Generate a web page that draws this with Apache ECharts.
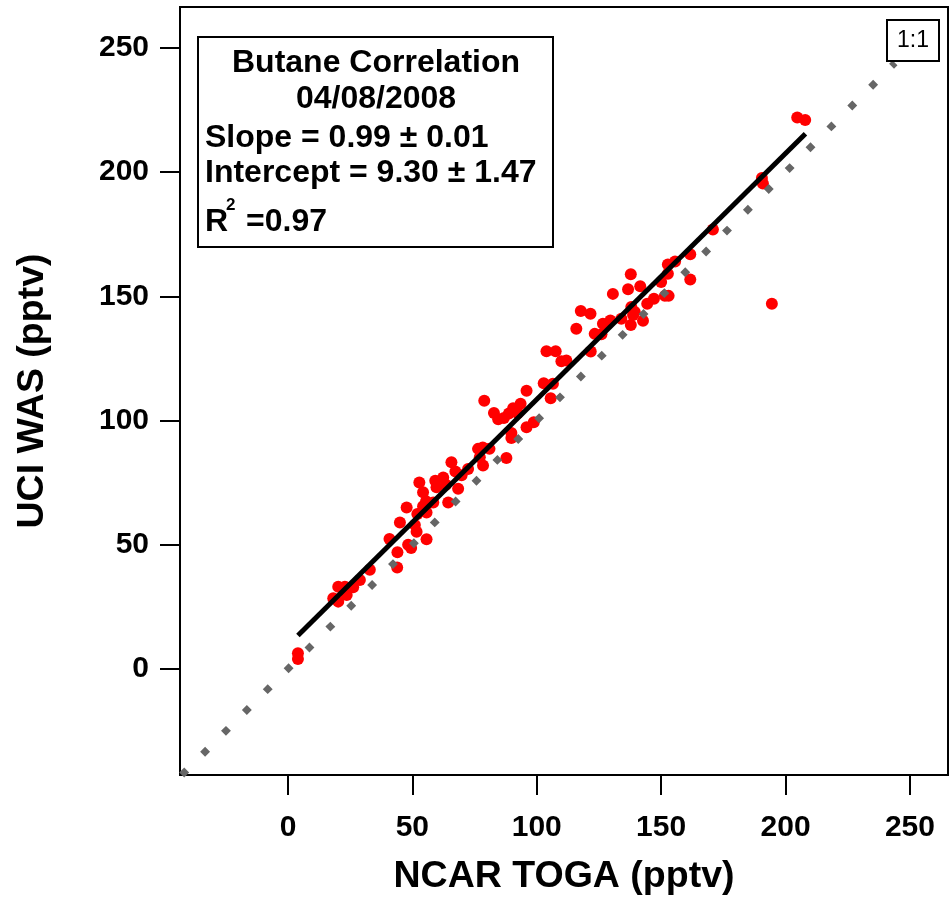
<!DOCTYPE html>
<html>
<head>
<meta charset="utf-8">
<script src="https://cdn.jsdelivr.net/npm/echarts@6/dist/echarts.min.js"></script>
<style>
html,body{margin:0;padding:0;background:#fff;}
#chart{width:951px;height:901px;}
</style>
</head>
<body>
<div id="chart"></div>
<script>
// NCAR TOGA (x) and UCI WAS (y) butane mixing ratios, pptv
const ncarToga = [
  4, 4, 18.2, 20.2, 20.2, 22.9, 23.6, 26.2, 28.9, 32.9,
  43.9, 44, 40.8, 45, 47.7, 48.3, 49.5, 51, 51.7, 52,
  55.7, 55.7, 54.3, 58.4, 64.4, 52.8, 54.3, 55.5, 59.2, 59.7,
  62.4, 63.5, 65.7, 67.3, 68.4, 69.8, 72.4, 76.4, 78.3, 81,
  77.1, 78.4, 87.8, 78.9, 82.8, 84.5, 86.8, 88.8, 90.5, 93.5,
  92.4, 89.8, 89.8, 95.9, 98.8, 95.9, 102.8, 106.5, 105.6, 103.9,
  107.6, 109.9, 111.9, 121.7, 115.9, 117.7, 121.6, 123.3, 126, 126.6,
  129.6, 134, 130.6, 136.7, 137.8, 141.6, 138, 139.4, 138.7, 142.7,
  137.8, 144.4, 147.1, 151.5, 153, 150, 152.7, 152.7, 155.6, 161.7,
  161.7, 170.8, 190.5, 190.9, 194.5, 204.7, 207.9
];
const uciWas = [
  4, 6.3, 28.5, 27.1, 33.1, 33.1, 29.8, 32.9, 35.8, 39.9,
  40.8, 47, 52.3, 59, 65, 50, 48.7, 58, 55.2, 62.4,
  52.2, 63, 65.5, 67, 67, 75.1, 71.1, 67.5, 75.8, 73.1,
  77.1, 74.2, 83.2, 79.5, 72.5, 78, 80.5, 88.6, 89.2, 88.6,
  85.2, 81.9, 84.9, 108, 103, 100.5, 101, 102.8, 105, 106.8,
  103, 95, 93, 97.3, 99.3, 112, 115, 114.8, 109, 127.9,
  127.9, 123.9, 124.2, 127.8, 137, 144.1, 143, 134.9, 134.7, 139,
  140.3, 141, 151, 152.9, 158.9, 154.1, 145.7, 143.7, 142.5, 140.2,
  138.5, 147, 149, 150.2, 150.2, 155.8, 159.1, 162.8, 164, 167,
  156.8, 176.9, 197.7, 195.4, 147, 222, 221
];
// regression line endpoints (as drawn) and 1:1 reference line
const fitX = [4, 208];
const fitY = [13.5, 215.5];
const oneToOneX = [-42.7, 244];
const oneToOneY = [-42.7, 244];
const tickValues = [0, 50, 100, 150, 200, 250];
const statLines = ['Butane Correlation', '04/08/2008', 'Slope = 0.99 \u00b1 0.01', 'Intercept = 9.30 \u00b1 1.47'];

const FONT = '"Liberation Sans", Arial, Helvetica, sans-serif';
const chart = echarts.init(document.getElementById('chart'), null, {renderer: 'canvas'});

const scatterData = ncarToga.map((x, i) => [x, uciWas[i]]);
const fitData = fitX.map((x, i) => [x, fitY[i]]);
const oneData = oneToOneX.map((x, i) => [x, oneToOneY[i]]);

function axisCommon() {
  return {
    type: 'value',
    axisLine: {show: true, onZero: false, lineStyle: {color: '#000', width: 2}},
    axisTick: {show: true, inside: false, length: 20, customValues: tickValues, lineStyle: {color: '#000', width: 2}},
    axisLabel: {customValues: tickValues, color: '#000', fontSize: 30, fontWeight: 'bold', fontFamily: FONT},
    splitLine: {show: false},
    nameLocation: 'middle',
    nameTextStyle: {color: '#000', fontSize: 37.5, fontWeight: 'bold', fontFamily: FONT}
  };
}

const xAxis = axisCommon();
xAxis.min = -43.4; xAxis.max = 265.3;
xAxis.name = 'NCAR TOGA (pptv)';
xAxis.nameGap = 83;
xAxis.axisLabel.margin = 38;

const yAxis = axisCommon();
yAxis.min = -42.7; yAxis.max = 266.5;
yAxis.name = 'UCI WAS (pptv)';
yAxis.nameGap = 128;
yAxis.axisLabel.margin = 31;

const textStyleBase = {fill: '#000', fontFamily: FONT, fontWeight: 'bold', fontSize: 32, verticalAlign: 'middle'};

chart.setOption({
  animation: false,
  backgroundColor: '#fff',
  grid: {left: 180, top: 7, right: 3, bottom: 126, show: true, borderColor: '#000', borderWidth: 2, containLabel: false},
  xAxis: xAxis,
  yAxis: yAxis,
  series: [
    {
      type: 'scatter', data: scatterData, symbol: 'circle', symbolSize: 12,
      itemStyle: {color: '#ff0000', opacity: 1}, z: 2
    },
    {
      type: 'line', data: oneData, showSymbol: false, symbol: 'none', z: 3,
      lineStyle: {color: '#666666', width: 7, type: [7, 22.5], cap: 'butt'}
    },
    {
      type: 'line', data: fitData, showSymbol: false, symbol: 'none', z: 4,
      lineStyle: {color: '#000', width: 5, cap: 'butt'}
    }
  ],
  graphic: [
    {type: 'rect', shape: {x: 198, y: 37, width: 355, height: 210}, style: {fill: '#fff', stroke: '#000', lineWidth: 2}, z: 100},
    {type: 'text', x: 376, y: 63.5, style: Object.assign({}, textStyleBase, {text: statLines[0], align: 'center'}), z: 101},
    {type: 'text', x: 376, y: 99, style: Object.assign({}, textStyleBase, {text: statLines[1], align: 'center'}), z: 101},
    {type: 'text', x: 205, y: 138, style: Object.assign({}, textStyleBase, {text: statLines[2], align: 'left'}), z: 101},
    {type: 'text', x: 205, y: 173, style: Object.assign({}, textStyleBase, {text: statLines[3], align: 'left'}), z: 101},
    {type: 'text', x: 205, y: 222.5, style: Object.assign({}, textStyleBase, {text: 'R', align: 'left'}), z: 101},
    {type: 'text', x: 226, y: 205, style: Object.assign({}, textStyleBase, {text: '2', align: 'left', fontSize: 17}), z: 101},
    {type: 'text', x: 246, y: 222.5, style: Object.assign({}, textStyleBase, {text: '=0.97', align: 'left'}), z: 101},
    {type: 'rect', shape: {x: 887, y: 20, width: 52, height: 41}, style: {fill: '#fff', stroke: '#000', lineWidth: 2}, z: 100},
    {type: 'text', x: 913, y: 40.5, style: {text: '1:1', fill: '#000', fontFamily: FONT, fontSize: 23, align: 'center', verticalAlign: 'middle'}, z: 101}
  ]
});
</script>
</body>
</html>
